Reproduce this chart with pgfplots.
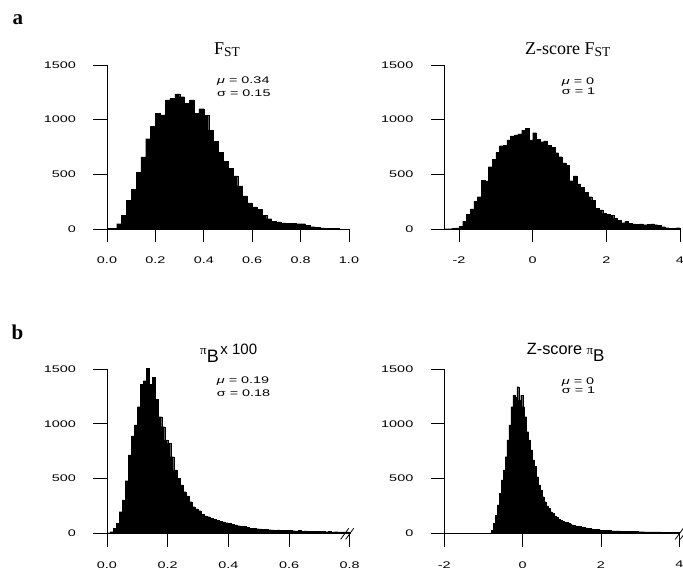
\documentclass[border=0pt]{standalone}
\usepackage{pgfplots}
\pgfplotsset{compat=1.18}
\usepackage{pgfplotstable}
\usepackage{fontspec}
\setmainfont{Liberation Sans}
\newfontfamily\tickfont[FakeStretch=1.5]{Liberation Sans}
\newfontfamily\seriffont{Liberation Serif}
\newcommand\ticklab{\tickfont\fontsize{9.6}{10}\selectfont}

\pgfplotstableread{
x y
0.00 6
0.02 6
0.04 49
0.06 128
0.08 262
0.10 363
0.12 518
0.14 660
0.16 826
0.18 940
0.20 1056
0.22 1043
0.24 1180
0.26 1195
0.28 1235
0.30 1210
0.32 1152
0.34 1180
0.36 1060
0.38 1100
0.40 1040
0.42 905
0.44 800
0.46 700
0.48 620
0.50 555
0.52 485
0.54 395
0.56 303
0.58 238
0.60 202
0.62 178
0.64 124
0.66 95
0.68 72
0.70 65
0.72 55
0.74 50
0.76 50
0.78 48
0.80 49
0.82 34
0.84 21
0.86 13
0.88 10
0.90 7
0.92 6
0.94 4
0.96 0
}\fst

\pgfplotstableread{
x y
-2.4 3
-2.3 3
-2.2 5
-2.1 10
-2.0 25
-1.9 70
-1.8 137
-1.7 183
-1.6 253
-1.5 296
-1.4 448
-1.3 440
-1.2 570
-1.1 640
-1.0 701
-0.9 762
-0.8 768
-0.7 814
-0.6 851
-0.5 860
-0.4 869
-0.3 905
-0.2 920
-0.1 814
0.0 881
0.1 820
0.2 799
0.3 805
0.4 768
0.5 747
0.6 698
0.7 662
0.8 605
0.9 585
1.0 442
1.1 485
1.2 412
1.3 381
1.4 335
1.5 296
1.6 265
1.7 189
1.8 174
1.9 143
2.0 137
2.1 128
2.2 98
2.3 82
2.4 58
2.5 73
2.6 52
2.7 46
2.8 43
2.9 46
3.0 40
3.1 43
3.2 46
3.3 40
3.4 34
3.5 21
3.6 12
3.7 9
3.8 6
3.9 12
4.0 0
}\zfst

\pgfplotstableread{
x y
0.00 6
0.01 15
0.02 46
0.03 91
0.04 198
0.05 304
0.06 481
0.07 715
0.08 889
0.09 989
0.10 1156
0.11 1363
0.12 1394
0.13 1506
0.14 1363
0.15 1424
0.16 1223
0.17 1065
0.18 974
0.19 852
0.20 822
0.21 700
0.22 578
0.23 502
0.24 441
0.25 380
0.26 341
0.27 289
0.28 243
0.29 222
0.30 207
0.31 176
0.32 158
0.33 152
0.34 137
0.35 128
0.36 116
0.37 110
0.38 104
0.39 97
0.40 90
0.41 84
0.42 78
0.43 70
0.44 66
0.45 62
0.46 55
0.47 48
0.48 45
0.49 42
0.50 40
0.51 36
0.52 38
0.53 33
0.54 32
0.55 30
0.56 31
0.57 28
0.58 27
0.59 30
0.60 25
0.61 24
0.62 22
0.63 25
0.64 20
0.65 21
0.66 19
0.67 18
0.68 20
0.69 17
0.70 16
0.71 18
0.72 15
0.73 16
0.74 14
0.75 15
0.76 13
0.77 14
0.78 12
0.79 12
0.80 0
}\pib

\pgfplotstableread{
x y
-0.85 5
-0.80 30
-0.75 91
-0.70 167
-0.65 259
-0.60 365
-0.55 487
-0.50 578
-0.45 700
-0.40 852
-0.35 989
-0.30 1156
-0.25 1260
-0.20 1240
-0.15 1339
-0.10 1215
-0.05 1262
0.00 1156
0.05 1065
0.10 928
0.15 852
0.20 761
0.25 670
0.30 609
0.35 517
0.40 441
0.45 396
0.50 335
0.55 289
0.60 250
0.65 228
0.70 198
0.75 183
0.80 158
0.85 146
0.90 128
0.95 116
1.00 108
1.05 105
1.10 98
1.15 92
1.20 85
1.25 78
1.30 73
1.35 68
1.40 65
1.45 62
1.50 58
1.55 54
1.60 49
1.65 46
1.70 43
1.75 40
1.80 38
1.85 35
1.90 34
1.95 32
2.00 30
2.05 29
2.10 28
2.15 26
2.20 25
2.25 24
2.30 23
2.35 22
2.40 21
2.45 21
2.50 20
2.55 19
2.60 19
2.65 18
2.70 18
2.75 17
2.80 17
2.85 16
2.90 16
2.95 15
3.00 15
3.05 15
3.10 14
3.15 14
3.20 13
3.25 13
3.30 13
3.35 12
3.40 12
3.45 12
3.50 12
3.55 11
3.60 11
3.65 11
3.70 10
3.75 10
3.80 10
3.85 9
3.90 9
3.95 9
4.00 0
}\zpib

\pgfplotsset{
  hist/.style={
    scale only axis, anchor=south west, clip=false,
    axis x line=bottom, axis y line=left,
    axis line style={-, line width=0.8pt, black},
    every outer x axis line/.append style={-},
    every outer y axis line/.append style={-},
    tick align=outside, major tick length=13.5pt,
    tick style={line width=0.8pt, black},
    ymin=0, ymax=1500, ytick={0,500,1000,1500},
    tick label style={font=\ticklab},
    /pgf/number format/assume math mode=true,
    /pgf/number format/1000 sep={},
    xticklabel style={yshift=-11pt},
    yticklabel style={xshift=-14pt},
  },
  histbars/.style={ybar interval, fill=black, draw=black, line width=0.2pt},
}

\begin{document}
\begin{tikzpicture}
\path[use as bounding box] (0,0) rectangle (683pt,570pt);

% panel a left
\begin{axis}[hist, at={(107pt,341pt)}, width=242pt, height=164pt,
  xmin=0, xmax=1, xtick={0,0.2,0.4,0.6,0.8,1.0},
  xticklabel style={/pgf/number format/.cd, fixed, fixed zerofill, precision=1}]
\addplot[histbars] table[x=x,y=y] {\fst};
\end{axis}

% panel a right
\begin{axis}[hist, at={(444.3pt,341pt)}, width=235.7pt, height=164pt,
  xmin=-2.4, xmax=4, xtick={-2,0,2,4}]
\addplot[histbars] table[x=x,y=y] {\zfst};
\end{axis}

% panel b left
\begin{axis}[hist, at={(107pt,36.7pt)}, width=242.7pt, height=164.3pt,
  xmin=0, xmax=0.8, xtick={0,0.2,0.4,0.6,0.8},
  xticklabel style={/pgf/number format/.cd, fixed, fixed zerofill, precision=1}]
\addplot[histbars] table[x=x,y=y] {\pib};
\draw[line width=0.8pt] ([xshift=-9pt,yshift=-6pt]rel axis cs:1,0) -- ++(8pt,11pt);
\draw[line width=0.8pt] ([xshift=-4pt,yshift=-6pt]rel axis cs:1,0) -- ++(8pt,11pt);
\end{axis}

% panel b right
\begin{axis}[hist, at={(444.3pt,36.7pt)}, width=235pt, height=164.3pt,
  xmin=-2, xmax=4, xtick={-2,0,2,4}]
\addplot[histbars] table[x=x,y=y] {\zpib};
\draw[line width=0.8pt] ([xshift=-4pt,yshift=-6pt]rel axis cs:1,0) -- ++(8pt,11pt);
\draw[line width=0.8pt] ([xshift=1pt,yshift=-6pt]rel axis cs:1,0) -- ++(8pt,11pt);
\end{axis}

% panel labels
\node[anchor=base west, inner sep=0pt] at (12.5pt,545pt) {\seriffont\bfseries\fontsize{21}{21}\selectfont a};
\node[anchor=base west, inner sep=0pt] at (11.5pt,230pt) {\seriffont\bfseries\fontsize{21}{21}\selectfont b};

% titles
\node[anchor=base west, inner sep=0pt] at (214pt,515.5pt)
  {\seriffont\fontsize{18}{18}\selectfont F\raisebox{-2pt}{\fontsize{13.5}{13.5}\selectfont ST}};
\node[anchor=base west, inner sep=0pt] at (525pt,515.5pt)
  {\seriffont\fontsize{18}{18}\selectfont Z-score F\raisebox{-2pt}{\fontsize{13.5}{13.5}\selectfont ST}};
\node[anchor=base west, inner sep=0pt] at (200pt,215pt)
  {{\seriffont\fontsize{13}{13}\selectfont π}\raisebox{-8pt}{\fontsize{18}{18}\selectfont B}\,{\fontsize{15}{15}\selectfont x 100}};
\node[anchor=base west, inner sep=0pt] at (526.7pt,215pt)
  {\fontsize{16.3}{16.3}\selectfont Z-score {\seriffont\fontsize{13}{13}\selectfont π}\raisebox{-7pt}{\fontsize{17}{17}\selectfont B}};

% annotations
\node[anchor=base west, inner sep=0pt] at (217pt,486.7pt) {\ticklab\textit{μ} = 0.34};
\node[anchor=base west, inner sep=0pt] at (217pt,473.3pt) {\ticklab σ = 0.15};
\node[anchor=base west, inner sep=0pt] at (561.7pt,485.5pt) {\ticklab\textit{μ} = 0};
\node[anchor=base west, inner sep=0pt] at (561.7pt,475.5pt) {\ticklab σ = 1};
\node[anchor=base west, inner sep=0pt] at (216.7pt,186pt) {\ticklab\textit{μ} = 0.19};
\node[anchor=base west, inner sep=0pt] at (216.7pt,173pt) {\ticklab σ = 0.18};
\node[anchor=base west, inner sep=0pt] at (561.7pt,185pt) {\ticklab\textit{μ} = 0};
\node[anchor=base west, inner sep=0pt] at (561.7pt,176pt) {\ticklab σ = 1};
\end{tikzpicture}
\end{document}
